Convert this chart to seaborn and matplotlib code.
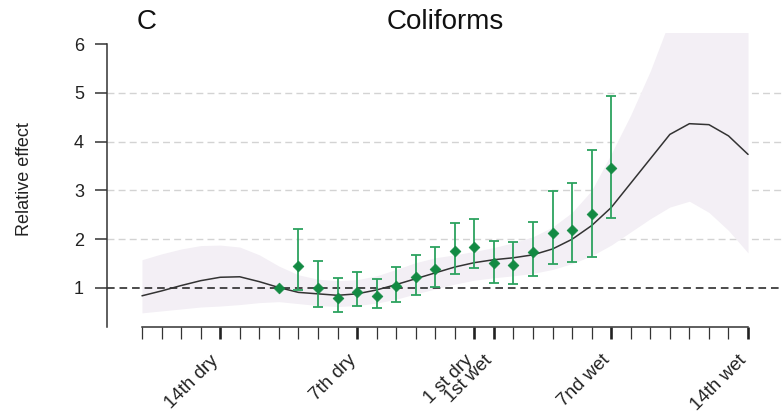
import numpy as np
import pandas as pd
import matplotlib
matplotlib.use("Agg")
import matplotlib.pyplot as plt
import seaborn as sns
from matplotlib.transforms import blended_transform_factory

# ---------------- data ----------------
n_days = 32  # 18th dry ... 1st dry, 1st wet ... 14th wet
label_pos = [4, 11, 17, 18, 24, 31]
tick_labels = ["14th dry", "7th dry", "1 st dry", "1st wet", "7nd wet", "14th wet"]

curve = [0.84, 0.94, 1.05, 1.15, 1.22, 1.23, 1.13, 1.01, 0.91, 0.88,
         0.85, 0.88, 0.96, 1.07, 1.19, 1.31, 1.43, 1.52, 1.58, 1.62,
         1.68, 1.80, 2.00, 2.28, 2.65, 3.15, 3.65, 4.15, 4.37, 4.35,
         4.12, 3.74]
band_hi = [1.58, 1.70, 1.80, 1.87, 1.88, 1.84, 1.68, 1.45, 1.27, 1.18,
           1.15, 1.17, 1.25, 1.38, 1.52, 1.62, 1.68, 1.75, 1.83, 1.93,
           2.05, 2.25, 2.55, 3.00, 3.75, 4.55, 5.45, 6.50, 7.00, 7.00,
           7.00, 7.00]
band_lo = [0.49, 0.53, 0.57, 0.61, 0.63, 0.66, 0.70, 0.72, 0.68, 0.64,
           0.62, 0.64, 0.69, 0.77, 0.88, 0.98, 1.08, 1.16, 1.21, 1.25,
           1.30, 1.38, 1.50, 1.66, 1.88, 2.15, 2.42, 2.66, 2.78, 2.55,
           2.18, 1.72]

pt_idx = [7, 8, 9, 10, 11, 12, 13, 14, 15, 16, 17, 18, 19, 20, 21, 22, 23, 24]
pt_val = [1.00, 1.45, 0.99, 0.80, 0.92, 0.83, 1.05, 1.22, 1.39, 1.75,
          1.84, 1.51, 1.48, 1.74, 2.13, 2.19, 2.52, 3.47]
pt_lo = [np.nan, 0.96, 0.62, 0.51, 0.64, 0.58, 0.72, 0.85, 1.02, 1.28,
         1.41, 1.11, 1.08, 1.25, 1.49, 1.53, 1.64, 2.44]
pt_hi = [np.nan, 2.21, 1.56, 1.20, 1.32, 1.18, 1.44, 1.67, 1.85, 2.33,
         2.41, 1.97, 1.94, 2.36, 2.98, 3.15, 3.84, 4.93]

# ---------------- style ----------------
sns.set_style("white")
plt.rcParams["font.family"] = ["Liberation Sans", "DejaVu Sans"]

W, H = 782, 419
fig = plt.figure(figsize=(W / 100, H / 100), dpi=100)
ax = fig.add_axes([107 / W, 1 - 327 / H, (W - 107) / W, 294 / H])

px_per_day = 19.55
ax.set_xlim((107 - 142) / px_per_day, (W - 142) / px_per_day)
ax.set_ylim(0.2, 6.23)

x = np.arange(n_days)
df_curve = pd.DataFrame({"day": x, "effect": curve, "lo": band_lo, "hi": band_hi})
df_pts = pd.DataFrame({"day": pt_idx, "effect": pt_val, "lo": pt_lo, "hi": pt_hi})

# grid lines
for g in [2, 3, 4, 5]:
    ax.axhline(g, color="#d3d3d3", lw=1.0, ls=(0, (5, 3)), zorder=0.5)

# confidence band
ax.fill_between(df_curve["day"], df_curve["lo"], df_curve["hi"],
                color="#f3eff5", lw=0, zorder=1)

# reference line
ax.axhline(1, color="#1a1a1a", lw=1.1, ls=(0, (5, 3.2)), zorder=2)

# smooth curve
sns.lineplot(data=df_curve, x="day", y="effect", ax=ax, color="#333333",
             lw=1.1, zorder=3, legend=False)

# error bars
eb = df_pts.dropna()
ax.errorbar(eb["day"], eb["effect"],
            yerr=[eb["effect"] - eb["lo"], eb["hi"] - eb["effect"]],
            fmt="none", ecolor="#2ca25f", elinewidth=1.3, capsize=3.6,
            capthick=1.3, zorder=4)

# diamonds
sns.scatterplot(data=df_pts, x="day", y="effect", ax=ax, marker="D", s=30,
                color="#138a43", edgecolor="#138a43", linewidth=0.5,
                zorder=5, legend=False)

# spines
for s in ["top", "right"]:
    ax.spines[s].set_visible(False)
ax.spines["left"].set_bounds(0.2, 6)
ax.spines["bottom"].set_bounds(0, n_days - 1)
for s in ["left", "bottom"]:
    ax.spines[s].set_linewidth(1.1)
    ax.spines[s].set_color("#333333")

# y axis ticks
ax.set_yticks([1, 2, 3, 4, 5, 6])
ax.set_yticklabels(["1", "2", "3", "4", "5", "6"])
ax.tick_params(axis="y", left=True, length=8.6, width=1.1, pad=8,
               labelsize=13, colors="#333333", labelcolor="#222222")

# x axis ticks
ax.set_xticks(label_pos)
ax.set_xticks([i for i in x if i not in label_pos], minor=True)
ax.tick_params(axis="x", which="major", bottom=True, length=8.6, width=1.9,
               labelbottom=False, colors="#222222")
ax.tick_params(axis="x", which="minor", bottom=True, length=8.6, width=0.9,
               labelbottom=False, colors="#333333")
ax.set_xlabel("")
ax.set_ylabel("")

trans = blended_transform_factory(ax.transData, ax.transAxes)
for p, lab in zip(label_pos, tick_labels):
    ax.text(p - 0.2, -0.105, lab, transform=trans, rotation=45, ha="right",
            va="center", rotation_mode="anchor", fontsize=13.5,
            color="#222222")

# titles and labels
fig.text(445 / W, 1 - 29 / H, "Coliforms", ha="center", va="baseline",
         fontsize=20, color="#111111")
fig.text(137 / W, 1 - 29 / H, "C", ha="left", va="baseline",
         fontsize=20, color="#111111")
fig.text(25 / W, 1 - 179 / H, "Relative effect", rotation=90,
         ha="center", va="center", fontsize=13, color="#222222")

fig.savefig("out.png", dpi=100)
